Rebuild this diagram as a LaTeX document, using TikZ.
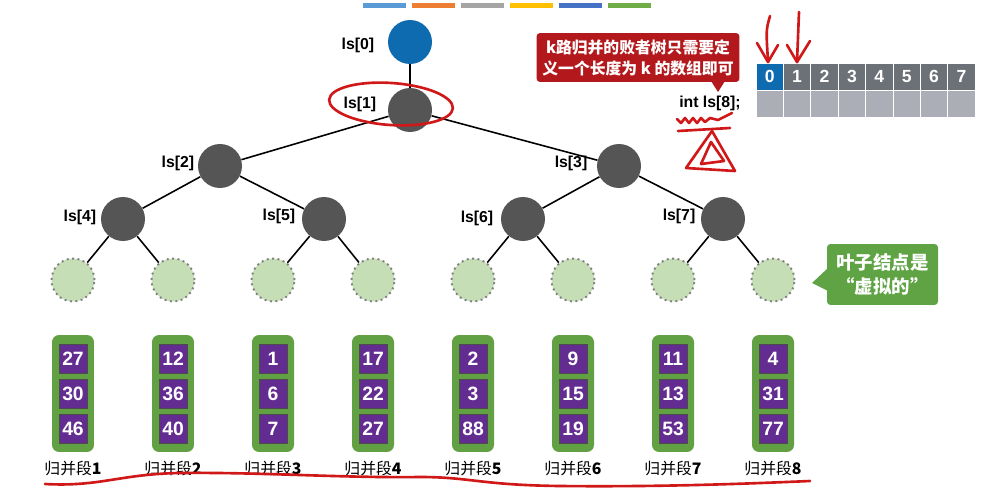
\documentclass[tikz,border=0pt]{standalone}
\usepackage{fontspec}
\setmainfont{Liberation Sans}
\newfontfamily\cjk{Noto Sans CJK SC}
\usetikzlibrary{positioning}

\definecolor{lsblue}{HTML}{0F6BAF}
\definecolor{lsgray}{HTML}{555555}
\definecolor{leafgreen}{HTML}{C6DEB6}
\definecolor{rungreen}{HTML}{62A044}
\definecolor{runpurple}{HTML}{632C90}
\definecolor{tipred}{HTML}{B3191C}
\definecolor{tipgreen}{HTML}{5FA344}
\definecolor{cellgray}{HTML}{6C7077}
\definecolor{celllight}{HTML}{ABADB7}
\definecolor{penred}{HTML}{D01818}

\begin{document}
\begin{tikzpicture}[x=0.02cm,y=-0.02cm]

    \tikzset{
      lsnode/.style={
        circle,
        fill=lsgray,
        inner sep=0pt,
        minimum size=0.88cm,
      },
      leaf/.style={
        circle,
        fill=leafgreen,
        draw=black!50,
        dotted,
        line width=1.1pt,
        inner sep=0pt,
        minimum size=0.86cm,
      },
      lslabel/.style={
        font=\bfseries\fontsize{9}{10}\selectfont,
        anchor=center,
      },
      edge/.style={
        line width=0.9pt,
        black,
      },
      runbox/.style={
        fill=rungreen,
        rounded corners=4pt,
        minimum width=0.84cm,
        minimum height=2.34cm,
        inner sep=0pt,
      },
      key/.style={
        fill=runpurple,
        draw=black!70,
        line width=0.3pt,
        minimum width=0.56cm,
        minimum height=0.58cm,
        inner sep=0pt,
        text=white,
        font=\bfseries\fontsize{11}{12}\selectfont,
      },
      cell/.style={
        fill=cellgray,
        draw=white,
        line width=0.4pt,
        minimum width=0.548cm,
        minimum height=0.54cm,
        inner sep=0pt,
        text=white,
        font=\bfseries\fontsize{10}{12}\selectfont,
      },
      pen/.style={
        penred,
        line width=1.5pt,
        line cap=round,
        line join=round,
      },
    }
    \useasboundingbox (0,0) rectangle (1006,490);

    % colour bars at the top
    \foreach \c [count=\i from 0] in {5B9BD5,ED7D31,A5A5A5,FFC000,4472C4,70AD47} {
      \definecolor{bar}{HTML}{\c}
      \fill[bar] (363+49*\i,3) rectangle (406+49*\i,8);
    }

    % the loser tree
    \node[lsnode,fill=lsblue] (ls0) at (410,42) {};
    \node[lsnode] (ls1) at (410,110) {};
    \node[lsnode] (ls2) at (220,166) {};
    \node[lsnode] (ls3) at (619,166) {};
    \node[lsnode] (ls4) at (123,219) {};
    \node[lsnode] (ls5) at (324,219) {};
    \node[lsnode] (ls6) at (523,219) {};
    \node[lsnode] (ls7) at (723,219) {};

    \node[lslabel] at (358,45) {ls[0]};
    \node[lslabel] at (360,104) {ls[1]};
    \node[lslabel] at (178,163) {ls[2]};
    \node[lslabel] at (571,163) {ls[3]};
    \node[lslabel] at (80,217) {ls[4]};
    \node[lslabel] at (279,216) {ls[5]};
    \node[lslabel] at (477,218) {ls[6]};
    \node[lslabel] at (679,216) {ls[7]};

    \foreach \i in {1,...,8} {
      \node[leaf] (leaf\i) at (73+100*\i-100,280) {};
    }

    \draw[edge] (ls0) -- (ls1);
    \draw[edge] (ls1) -- (ls2);
    \draw[edge] (ls1) -- (ls3);
    \draw[edge] (ls2) -- (ls4);
    \draw[edge] (ls2) -- (ls5);
    \draw[edge] (ls3) -- (ls6);
    \draw[edge] (ls3) -- (ls7);
    \draw[edge] (ls4) -- (leaf1);
    \draw[edge] (ls4) -- (leaf2);
    \draw[edge] (ls5) -- (leaf3);
    \draw[edge] (ls5) -- (leaf4);
    \draw[edge] (ls6) -- (leaf5);
    \draw[edge] (ls6) -- (leaf6);
    \draw[edge] (ls7) -- (leaf7);
    \draw[edge] (ls7) -- (leaf8);

    % the eight runs
    \foreach \a/\b/\c [count=\i] in {27/30/46,12/36/40,1/6/7,17/22/27,2/3/88,9/15/19,11/13/53,4/31/77} {
      \node[runbox] (run\i) at (73+100*\i-100,393.5) {};
      \node[key] (run\i a) at (73+100*\i-100,358.5) {\a};
      \node[key] (run\i b) at (73+100*\i-100,393.5) {\b};
      \node[key] (run\i c) at (73+100*\i-100,429) {\c};
      \node[font=\cjk\fontsize{9}{10}\selectfont] (name\i) at (73+100*\i-100,468) {归并段\textbf{\i}};
    }

    % callout: k-way tree only needs an array of length k
    \node[fill=tipred,rounded corners=2pt,minimum width=3.84cm,minimum height=0.98cm,
          text=white,align=center,font=\cjk\bfseries\fontsize{9}{12}\selectfont]
          (tipk) at (638,57.5) {k路归并的败者树只需要定\\义一个长度为 k 的数组即可};
    \fill[tipred] (711,81) -- (725,81) -- (718,92) -- cycle;
    \node[font=\bfseries\fontsize{9}{10}\selectfont] (decl) at (710,103) {int ls[8];};

    % the array ls[0..7]
    \foreach \i in {0,...,7} {
      \node[cell] (c\i) at (769.7+27.4*\i,76.5) {\i};
      \node[cell,fill=celllight] (d\i) at (769.7+27.4*\i,104) {};
    }
    \node[cell,fill=lsblue] at (c0) {0};

    % callout: the leaves are virtual
    \node[fill=tipgreen,rounded corners=2pt,minimum width=2.22cm,minimum height=1.22cm,
          text=white,align=center,font=\cjk\bfseries\fontsize{10.5}{14}\selectfont]
          (tipleaf) at (882.5,274.5) {叶子结点是\\“虚拟的”};
    \fill[tipgreen] (828,268) -- (812,283) -- (828,291) -- cycle;

    % red pen marks
    \draw[pen,rotate around={-4:(391,104)}] (391,104) ellipse (62 and 21);
    \draw[pen] (770,16) .. controls (766,30) .. (768,61);
    \draw[pen] (757,43) -- (768,62) -- (778,45);
    \draw[pen] (799,12) -- (797,62);
    \draw[pen] (787,45) -- (797,62) -- (810,41);
    \draw[pen] (677,119) -- (681,123) -- (685,118) -- (689,123) -- (693,118) -- (697,123)
               -- (701,118) -- (705,122) -- (710,118) -- (718,120) -- (732,113);
    \draw[pen] (678,131) -- (730,128);
    \draw[pen] (712,131) -- (686,168) -- (735,171) -- cycle;
    \draw[pen] (711,142) -- (701,164) -- (724,161) -- cycle;
    \draw[pen] (45,484) .. controls (100,487) and (120,474) .. (180,473)
               .. controls (260,472) and (340,478) .. (420,477)
               .. controls (470,477) and (480,485) .. (560,486)
               .. controls (660,487) and (740,484) .. (810,481);

\end{tikzpicture}
\end{document}
